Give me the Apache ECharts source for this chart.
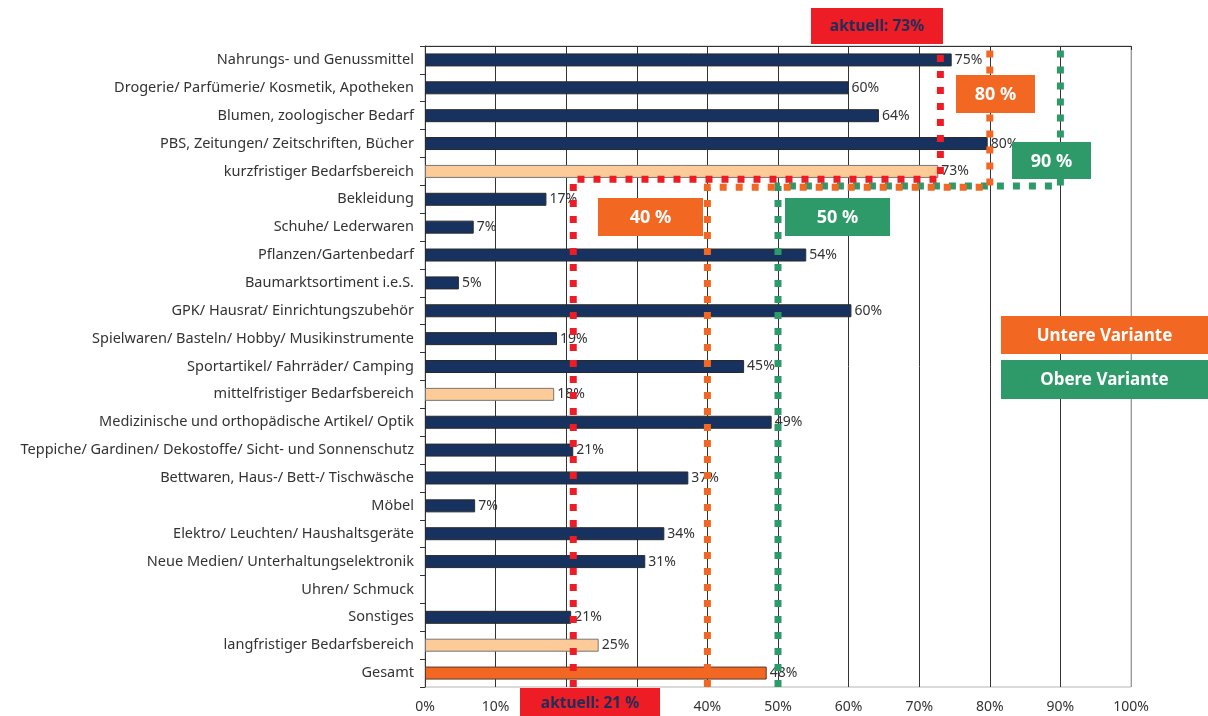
<!DOCTYPE html>
<html>
<head>
<meta charset="utf-8">
<script src="https://cdn.jsdelivr.net/npm/echarts@6/dist/echarts.min.js"></script>
<style>
  html, body { margin: 0; padding: 0; background: #fff; }
  #main { width: 1208px; height: 716px; }
</style>
</head>
<body>
<div id="main"></div>
<script>
// Sortimente, von oben nach unten
const categories = [
  'Nahrungs- und Genussmittel',
  'Drogerie/ Parfümerie/ Kosmetik, Apotheken',
  'Blumen, zoologischer Bedarf',
  'PBS, Zeitungen/ Zeitschriften, Bücher',
  'kurzfristiger Bedarfsbereich',
  'Bekleidung',
  'Schuhe/ Lederwaren',
  'Pflanzen/Gartenbedarf',
  'Baumarktsortiment i.e.S.',
  'GPK/ Hausrat/ Einrichtungszubehör',
  'Spielwaren/ Basteln/ Hobby/ Musikinstrumente',
  'Sportartikel/ Fahrräder/ Camping',
  'mittelfristiger Bedarfsbereich',
  'Medizinische und orthopädische Artikel/ Optik',
  'Teppiche/ Gardinen/ Dekostoffe/ Sicht- und Sonnenschutz',
  'Bettwaren, Haus-/ Bett-/ Tischwäsche',
  'Möbel',
  'Elektro/ Leuchten/ Haushaltsgeräte',
  'Neue Medien/ Unterhaltungselektronik',
  'Uhren/ Schmuck',
  'Sonstiges',
  'langfristiger Bedarfsbereich',
  'Gesamt'
]
// Anteile in %
const values = [
  74.6, 60, 64.3, 79.7, 72.7,
  17.2, 6.9, 54, 4.8, 60.4, 18.7, 45.2, 18.3,
  49.1, 21, 37.3, 7.1, 33.9, 31.2, null, 20.7, 24.6,
  48.4
]
const subtotalRows = ['kurzfristiger Bedarfsbereich', 'mittelfristiger Bedarfsbereich', 'langfristiger Bedarfsbereich']
const totalRow = 'Gesamt'

const xTicks = [0, 10, 20, 30, 40, 50, 60, 70, 80, 90, 100]

// Schwellen: [mittel-/langfristig, kurzfristig]
const aktuell = [21, 73]
const untereVariante = [40, 80]
const obereVariante = [50, 90]

const FONT = '"Noto Sans"'
const FS = 14.5
const NAVY = '#17325f'
const PEACH = '#fccb97'
const ORANGE = '#f26722'
const GREEN = '#2f9a69'
const RED = '#ee1d25'

function barStyle (name) {
  if (name === totalRow) return { color: ORANGE, borderColor: '#5a3b2b', borderWidth: 1 }
  if (subtotalRows.includes(name)) return { color: PEACH, borderColor: '#777', borderWidth: 1 }
  return { color: NAVY, borderColor: '#2a2a2a', borderWidth: 1 }
}

// Stufenlinie: unten bei Schwelle 1, Sprung unter dem kurzfristigen Bereich, oben bei Schwelle 2
function stepPath (vals, level) {
  const n = categories.length
  return [[vals[0], n], [vals[0], level], [vals[1], level], [vals[1], 0]]
}

function dottedLine (name, vals, level, color, z) {
  return {
    name: name,
    type: 'line',
    yAxisIndex: 1,
    data: stepPath(vals, level),
    symbol: 'none',
    silent: true,
    z: z,
    lineStyle: { color: color, width: 7, type: [7, 9], cap: 'butt', join: 'miter' }
  }
}

function box (x, y, w, h, fill, text, textColor, size) {
  return {
    type: 'group',
    x: x,
    y: y,
    z: 100,
    children: [
      { type: 'rect', z: 100, shape: { x: 0, y: 0, width: w, height: h }, style: { fill: fill } },
      {
        type: 'text',
        z: 101,
        x: w / 2,
        y: h / 2 + 1,
        style: {
          text: text,
          fill: textColor,
          font: 'bold ' + size + 'px ' + FONT,
          textAlign: 'center',
          textVerticalAlign: 'middle'
        }
      }
    ]
  }
}

const chart = echarts.init(document.getElementById('main'))

const splitColors = xTicks.map((t, i) => (i === 0 || i === xTicks.length - 1) ? '#999' : '#333')

chart.setOption({
  animation: false,
  grid: {
    left: 425,
    right: 77,
    top: 46,
    bottom: 29,
    show: true,
    borderColor: '#b5b5b5',
    borderWidth: 1,
    outerBoundsMode: 'none'
  },
  xAxis: {
    type: 'value',
    min: 0,
    max: 100,
    interval: 10,
    axisLine: { show: true, lineStyle: { color: '#333', width: 1 } },
    axisTick: { show: true, length: 4, lineStyle: { color: '#333' } },
    axisLabel: {
      formatter: '{value}%',
      color: '#333',
      fontSize: FS - 0.5,
      fontFamily: FONT,
      margin: 13
    },
    splitLine: { show: true, lineStyle: { color: splitColors, width: 1 } }
  },
  yAxis: [
    {
      type: 'category',
      data: categories,
      inverse: true,
      axisLine: { show: true, lineStyle: { color: '#333' } },
      axisTick: { show: true, length: 5, lineStyle: { color: '#333' } },
      axisLabel: {
        color: '#333',
        fontSize: FS,
        fontFamily: FONT,
        margin: 11,
        interval: 0
      }
    },
    {
      type: 'value',
      min: 0,
      max: categories.length,
      inverse: true,
      show: false
    }
  ],
  series: [
    {
      name: 'Anteil',
      type: 'bar',
      barWidth: 13,
      z: 2,
      data: values.map((v, i) => ({ value: v, itemStyle: barStyle(categories[i]) })),
      label: {
        show: true,
        position: 'right',
        distance: 3,
        color: '#333',
        fontSize: FS - 0.5,
        fontFamily: FONT,
        formatter: p => (p.value == null ? '' : Math.round(p.value) + '%')
      }
    },
    dottedLine('Obere Variante', obereVariante, 5.02, GREEN, 5),
    dottedLine('Untere Variante', untereVariante, 5.07, ORANGE, 6),
    dottedLine('aktuell', aktuell, 4.78, RED, 7)
  ],
  graphic: [
    box(811, 8, 132, 36, RED, 'aktuell: 73%', '#1b2f5b', 15.5),
    box(956, 75, 79, 38, ORANGE, '80 %', '#fff', 18),
    box(1012, 142, 79, 37, GREEN, '90 %', '#fff', 18),
    box(598, 198, 105, 38, ORANGE, '40 %', '#fff', 18),
    box(785, 198, 105, 38, GREEN, '50 %', '#fff', 18),
    box(1001, 316, 207, 38, ORANGE, 'Untere Variante', '#fff', 17),
    box(1001, 360, 207, 39, GREEN, 'Obere Variante', '#fff', 17),
    box(520, 688, 140, 30, RED, 'aktuell: 21 %', '#1b2f5b', 15.5)
  ]
})
</script>
</body>
</html>
